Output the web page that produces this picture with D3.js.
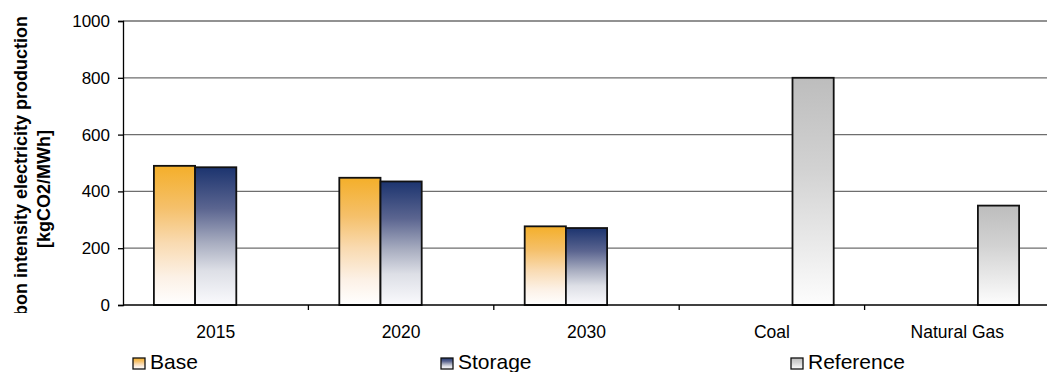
<!DOCTYPE html>
<html>
<head>
<meta charset="utf-8">
<script src="https://cdn.jsdelivr.net/npm/d3@7"></script>
<style>
  html, body { margin: 0; padding: 0; background: #fff; }
  svg { display: block; font-family: Arial, "Liberation Sans", sans-serif; }
</style>
</head>
<body>
<svg id="chart" width="1047" height="372"></svg>
<script>
// Carbon intensity of electricity production, kgCO2/MWh
const categories = ["2015", "2020", "2030", "Coal", "Natural Gas"];
const seriesNames = ["Base", "Storage", "Reference"];
const baseValues = [490, 448, 277, null, null];
const storageValues = [485, 435, 271, null, null];
const referenceValues = [null, null, null, 800, 350];
const yTicks = [0, 200, 400, 600, 800, 1000];

const seriesValues = [baseValues, storageValues, referenceValues];

const svg = d3.select("#chart");
const plot = { left: 123, right: 1050, top: 21, bottom: 305 };

// vertical gradients, one per series
const gradients = {
  Base: [[0, "#F4AF2A"], [0.3, "#F5C06A"], [0.55, "#F9DAB0"], [0.8, "#FCF1E6"], [1, "#FFFFFF"]],
  Storage: [[0, "#1C346F"], [0.3, "#5B6590"], [0.55, "#A8ADC0"], [0.75, "#DDDFE6"], [1, "#FAFAFD"]],
  Reference: [[0, "#BDBDBD"], [0.4, "#D2D2D2"], [0.75, "#EBEBEB"], [1, "#FDFDFD"]]
};
const defs = svg.append("defs");
seriesNames.forEach((name, i) => {
  const g = defs.append("linearGradient")
    .attr("id", "grad" + i)
    .attr("x1", 0).attr("y1", 0).attr("x2", 0).attr("y2", 1);
  gradients[name].forEach(([o, c]) => g.append("stop").attr("offset", o).attr("stop-color", c));
});
defs.append("clipPath").attr("id", "labelClip")
  .append("rect").attr("x", 0).attr("y", 0).attr("width", 70).attr("height", 313);

const x = d3.scaleBand().domain(categories).range([plot.left, plot.right]).paddingInner(0).paddingOuter(0);
const xs = d3.scaleBand().domain(seriesNames).range([0, x.bandwidth()]).paddingInner(0).paddingOuter(0.75);
const y = d3.scaleLinear().domain([0, 1000]).range([plot.bottom, plot.top]);

// gridlines
svg.append("g")
  .selectAll("line")
  .data(yTicks.filter(t => t > 0))
  .join("line")
  .attr("x1", plot.left).attr("x2", plot.right)
  .attr("y1", d => y(d)).attr("y2", d => y(d))
  .attr("stroke", "#6e6e6e").attr("stroke-width", 1.3);

// bars
const rows = [];
categories.forEach((c, ci) => {
  seriesNames.forEach((s, si) => {
    const v = seriesValues[si][ci];
    if (v != null) rows.push({ c, s, si, v });
  });
});
svg.append("g")
  .selectAll("rect")
  .data(rows)
  .join("rect")
  .attr("x", d => x(d.c) + xs(d.s))
  .attr("y", d => y(d.v))
  .attr("width", xs.bandwidth())
  .attr("height", d => y(0) - y(d.v))
  .attr("fill", d => `url(#grad${d.si})`)
  .attr("stroke", "#111")
  .attr("stroke-width", 1.8);

// y axis
const yAxis = svg.append("g")
  .attr("transform", `translate(${plot.left},0)`)
  .call(d3.axisLeft(y).tickValues(yTicks).tickSize(5).tickPadding(8).tickFormat(d3.format("d")));
yAxis.select(".domain").attr("stroke", "#000").attr("stroke-width", 1.3);
yAxis.selectAll(".tick line").attr("stroke", "#000").attr("stroke-width", 1.3);
yAxis.selectAll(".tick text").attr("font-size", 17).attr("fill", "#000")
  .attr("font-family", "Arial, 'Liberation Sans', sans-serif");

// x axis line and category separators
svg.append("line")
  .attr("x1", plot.left).attr("x2", plot.right)
  .attr("y1", y(0)).attr("y2", y(0))
  .attr("stroke", "#000").attr("stroke-width", 1.3);
svg.append("g")
  .selectAll("line")
  .data(categories.slice(1))
  .join("line")
  .attr("x1", d => x(d)).attr("x2", d => x(d))
  .attr("y1", y(0)).attr("y2", y(0) + 5)
  .attr("stroke", "#000").attr("stroke-width", 1.3);
svg.append("g")
  .selectAll("text")
  .data(categories)
  .join("text")
  .attr("x", d => x(d) + x.bandwidth() / 2)
  .attr("y", 338)
  .attr("text-anchor", "middle")
  .attr("font-size", 17.5)
  .text(d => d);

// y axis title, clipped at the bottom
const title = svg.append("g").attr("clip-path", "url(#labelClip)");
title.append("text")
  .attr("transform", "translate(27,181) rotate(-90)")
  .attr("text-anchor", "middle")
  .attr("font-size", 18).attr("font-weight", "bold")
  .text("Carbon intensity electricity production");
title.append("text")
  .attr("transform", "translate(50,189) rotate(-90)")
  .attr("text-anchor", "middle")
  .attr("font-size", 18).attr("font-weight", "bold")
  .text("[kgCO2/MWh]");

// legend
const legendX = [133, 441, 791];
const legend = svg.append("g")
  .selectAll("g")
  .data(seriesNames)
  .join("g")
  .attr("transform", (d, i) => `translate(${legendX[i]},358)`);
legend.append("rect")
  .attr("width", 12).attr("height", 11)
  .attr("fill", (d, i) => `url(#grad${i})`)
  .attr("stroke", "#111").attr("stroke-width", 1.3);
legend.append("text")
  .attr("x", 17)
  .attr("y", 10.5)
  .attr("font-size", 21)
  .text(d => d);
</script>
</body>
</html>
